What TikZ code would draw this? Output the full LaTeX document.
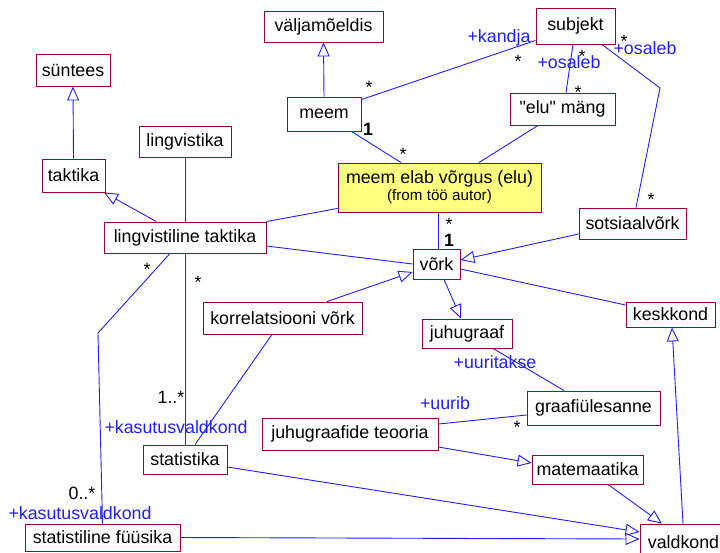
\documentclass[tikz,border=0pt]{standalone}
\usepackage{fontspec}
\setmainfont{Liberation Sans}
\newfontfamily\plainfont{Liberation Sans}
\usetikzlibrary{arrows.meta,backgrounds}
\definecolor{boxline}{RGB}{153,0,51}
\definecolor{linkblue}{RGB}{30,30,255}
\definecolor{notefill}{RGB}{255,255,128}
\tikzset{
  cls/.style={draw=boxline, fill=white, line width=0.9pt, inner sep=0pt,
    font=\fontsize{17.8}{20}\selectfont, text=black},
  note/.style={cls, fill=notefill, align=center},
  link/.style={draw=linkblue, line width=0.9pt},
  gen/.style={link, -{Triangle[length=14pt,width=12pt,fill=white]}},
  role/.style={text=linkblue, font=\fontsize{17.8}{20}\selectfont, inner sep=0pt},
  mult/.style={text=black, font=\fontsize{17.8}{20}\selectfont, inner sep=0pt, anchor=base},
  multb/.style={mult, font=\fontsize{17.8}{20}\selectfont\bfseries},
}
\begin{document}
\begin{tikzpicture}[x=1pt,y=-1pt]
\useasboundingbox (0,0) rectangle (720,552);

% classes
\node[cls, minimum width=119pt, minimum height=31pt] (valj)  at (323.5,26.5) {väljamõeldis};
\node[cls, minimum width=74pt,  minimum height=32pt] (syn)   at (73,70)      {süntees};
\node[cls, minimum width=92pt,  minimum height=31pt] (lingv) at (185,141.5)  {lingvistika};
\node[cls, minimum width=74pt,  minimum height=34pt] (meem)  at (324,114)    {meem};
\node[cls, minimum width=63pt,  minimum height=33pt] (takt)  at (73.5,175.5) {taktika};
\node[cls, minimum width=79pt,  minimum height=36pt] (subj)  at (575.5,26)   {subjekt};
\node[cls, minimum width=105pt, minimum height=32pt] (elu)   at (562.5,109)  {\plainfont "elu" mäng};
\node[note, minimum width=203pt, minimum height=49pt] (usecase) at (439.5,187.5)
  {meem elab võrgus (elu)\\[-3pt]{\fontsize{15.2}{17}\selectfont (from töö autor)}};
\node[cls, minimum width=162pt, minimum height=31pt] (lt)    at (185,237.5)  {lingvistiline taktika};
\node[cls, minimum width=107pt, minimum height=31pt] (sots)  at (632.5,223.5) {sotsiaalvõrk};
\node[cls, minimum width=47pt,  minimum height=30pt] (vork)  at (436.5,264)  {võrk};
\node[cls, minimum width=159pt, minimum height=32pt] (korr)  at (282.5,318)  {korrelatsiooni võrk};
\node[cls, minimum width=90pt,  minimum height=29pt] (juhu)  at (467,333.5)  {juhugraaf};
\node[cls, minimum width=89pt,  minimum height=25pt] (kesk)  at (670.5,314.5) {keskkond};
\node[cls, minimum width=133pt, minimum height=34pt] (graaf) at (593.5,408)  {graafiülesanne};
\node[cls, minimum width=176pt, minimum height=32pt] (jt)    at (350,434)    {juhugraafide teooria};
\node[cls, minimum width=84pt,  minimum height=29pt] (stat)  at (185,459.5)  {statistika};
\node[cls, minimum width=111pt, minimum height=29pt] (mat)   at (587.5,469.5) {matemaatika};
\node[cls, minimum width=155pt, minimum height=27pt] (sf)    at (102.5,537.5) {statistiline füüsika};
\node[cls, minimum width=87pt,  minimum height=36pt] (vald)  at (683.5,542)  {valdkond};

% bend points
\coordinate (bendA) at (98,333);
\coordinate (bendB) at (660,88);

\begin{scope}[on background layer]
  % generalisations
  \draw[gen] (meem.north) -- (valj.south);
  \draw[gen] (takt.north) -- (syn.south);
  \draw[gen] (lt) -- (takt);
  \draw[gen] ([yshift=-10.5pt]sots.west) -- ([yshift=4pt]vork.east);
  \draw[gen] ([xshift=44.5pt]korr.north) -- ([yshift=-8pt]vork.west);
  \draw[gen] ([xshift=7.5pt]vork.south) -- ([xshift=-6pt]juhu.north);
  \draw[gen] ([yshift=-13pt]jt.east) -- ([yshift=6.5pt]mat.west);
  \draw[gen] ([xshift=20.5pt]mat.south) -- ([xshift=-21.5pt]vald.north);
  \draw[gen] ([xshift=-0.5pt]vald.north) -- ([xshift=1.5pt]kesk.south);
  \draw[gen] ([yshift=-7.5pt]stat.east) -- ([yshift=10pt]vald.west);
  \draw[gen] (sf.east) -- ([yshift=3pt]vald.west);
  % associations
  \draw[link] (lingv) -- (lt);
  \draw[link] (lt) -- (stat);
  \draw[link] ([xshift=-15pt]lt.south) -- (bendA) -- (sf.north);
  \draw[link] (lt.north east) -- ([yshift=4pt]usecase.south west);
  \draw[link] ([yshift=-8.5pt]lt.east) -- (vork.west);
  \draw[link] ([yshift=-3pt]meem.north east) -- ([yshift=4pt]subj.south west);
  \draw[link] ([xshift=-10pt]meem.south east) -- ([xshift=-38.5pt]usecase.north);
  \draw[link] ([xshift=-2.5pt]subj.south) -- ([xshift=3.5pt]elu.north);
  \draw[link] ([xshift=26.5pt]subj.south) -- (bendB) -- ([xshift=3.5pt]sots.north);
  \draw[link] ([xshift=-24.5pt]elu.south) -- ([xshift=39.5pt]usecase.north);
  \draw[link] ([xshift=-1.5pt]usecase.south) -- ([xshift=1.5pt]vork.north);
  \draw[link] ([xshift=-10.5pt]korr.south) -- ([xshift=10pt]stat.north);
  \draw[link] ([yshift=-5pt]vork.east) -- ([yshift=9.5pt]kesk.west);
  \draw[link] ([xshift=26pt]juhu.south) -- ([xshift=-29.5pt]graaf.north);
  \draw[link] ([yshift=10pt]jt.east) -- ([yshift=-7pt]graaf.west);
\end{scope}

% role names
\node[role] (rKandja) at (499,38)  {+kandja};
\node[role] (rOsA)    at (569,62)  {+osaleb};
\node[role] (rOsB)    at (645,48)  {+osaleb};
\node[role] (rKasA)   at (176,427) {+kasutusvaldkond};
\node[role] (rKasB)   at (80,513)  {+kasutusvaldkond};
\node[role] (rUurt)   at (495,362) {+uuritakse};
\node[role] (rUurib)  at (445,403) {+uurib};

% multiplicities
\node[mult]  (mA) at (369,93)  {*};
\node[mult]  (mB) at (518,67)  {*};
\node[multb] (mC) at (368,135) {1};
\node[mult]  (mD) at (403,160) {*};
\node[mult]  (mE) at (582,62)  {*};
\node[mult]  (mF) at (578,98)  {*};
\node[mult]  (mG) at (624,47)  {*};
\node[mult]  (mH) at (651,205) {*};
\node[mult]  (mI) at (449,230) {*};
\node[multb] (mJ) at (449,246) {1};
\node[mult]  (mK) at (198,288) {*};
\node[mult]  (mL) at (171,403) {1..*};
\node[mult]  (mM) at (147,275) {*};
\node[mult]  (mN) at (82,499)  {0..*};
\node[mult]  (mO) at (517,433) {*};
\end{tikzpicture}
\end{document}
